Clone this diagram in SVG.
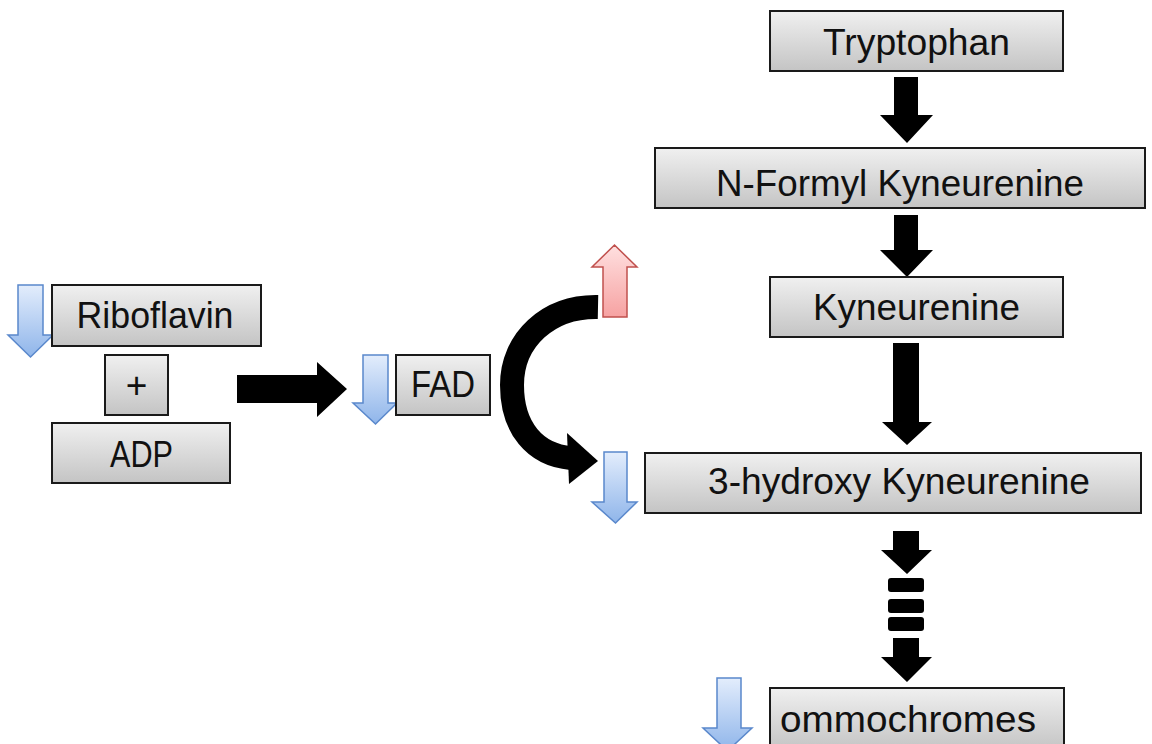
<svg xmlns="http://www.w3.org/2000/svg" width="1152" height="744" viewBox="0 0 1152 744">
  <defs>
    <linearGradient id="boxFill" x1="0" y1="0" x2="0" y2="1">
      <stop offset="0" stop-color="#f0f0f0"/>
      <stop offset="1" stop-color="#c4c4c4"/>
    </linearGradient>
    <linearGradient id="blueFill" x1="0" y1="0" x2="0" y2="1">
      <stop offset="0" stop-color="#e3edfc"/>
      <stop offset="1" stop-color="#8fb5ea"/>
    </linearGradient>
    <linearGradient id="redFill" x1="0" y1="0" x2="0" y2="1">
      <stop offset="0" stop-color="#ffe0e0"/>
      <stop offset="1" stop-color="#f6a2a2"/>
    </linearGradient>
  </defs>
  <style>
    .box { fill: url(#boxFill); stroke: #1a1a1a; stroke-width: 2; }
    .label { font-family: "Liberation Sans", Arial, sans-serif; font-size: 37px; fill: #111; text-anchor: middle; }
    .down { fill: url(#blueFill); stroke: #5a88cc; stroke-width: 1.5; stroke-linejoin: miter; }
    .up { fill: url(#redFill); stroke: #c0504d; stroke-width: 1.5; stroke-linejoin: miter; }
    .flow { fill: #000; stroke: none; }
    .curve { fill: none; stroke: #000; stroke-width: 24; }
  </style>

  <rect width="1152" height="744" fill="#fff"/>

  <!-- pathway connectors -->
  <g id="connectors">
    <!-- Riboflavin + ADP to FAD -->
    <polygon class="flow" points="237,375 317,375 317,362 347,389 317,417 317,403 237,403"/>
    <!-- FAD effect: curved arrow -->
    <path class="curve" d="M598,307 C548,306 512,340 512,385 C512,428 535,455 571,458"/>
    <polygon class="flow" points="567,433 598,461 569,484"/>
    <!-- Tryptophan to N-Formyl Kyneurenine -->
    <polygon class="flow" points="894,77 918,77 918,115 933,115 907,143 880,115 894,115"/>
    <!-- N-Formyl Kyneurenine to Kyneurenine -->
    <polygon class="flow" points="894,215 918,215 918,250 933,250 907,277 880,250 894,250"/>
    <!-- Kyneurenine to 3-hydroxy Kyneurenine -->
    <polygon class="flow" points="893,343 919,343 919,422 932,422 907,445 882,422 893,422"/>
    <!-- 3-hydroxy Kyneurenine to ommochromes (multi-step) -->
    <polygon class="flow" points="893,531 919,531 919,550 932,550 907,574 881,550 893,550"/>
    <rect class="flow" x="888" y="578" width="36" height="14" rx="3"/>
    <rect class="flow" x="888" y="599" width="36" height="14" rx="3"/>
    <rect class="flow" x="888" y="617" width="36" height="14" rx="3"/>
    <polygon class="flow" points="893,638 919,638 919,657 932,657 907,682 881,657 893,657"/>
  </g>

  <!-- level change indicators -->
  <g id="indicators">
    <polygon class="down" points="18,285 43,285 43,335 53,335 30.5,357 8,335 18,335"/>
    <polygon class="down" points="363,355 388,355 388,403 397,403 375.5,424 353,403 363,403"/>
    <polygon class="up" points="603,317 627,317 627,267 637,267 614.5,245 592,267 603,267"/>
    <polygon class="down" points="604,452 627,452 627,502 637,502 615.5,523 592,502 604,502"/>
    <polygon class="down" points="717,678 741,678 741,728 752,728 727.5,751 703,728 717,728"/>
  </g>

  <g id="riboflavin">
    <rect class="box" x="52" y="285" width="209" height="61"/>
    <text class="label" x="155" y="328" textLength="157" lengthAdjust="spacingAndGlyphs">Riboflavin</text>
  </g>
  <g id="plus">
    <rect class="box" x="105" y="355" width="63" height="60"/>
    <text class="label" x="136.5" y="398">+</text>
  </g>
  <g id="adp">
    <rect class="box" x="52" y="423" width="178" height="60"/>
    <text class="label" x="141.5" y="467" textLength="63" lengthAdjust="spacingAndGlyphs">ADP</text>
  </g>
  <g id="fad">
    <rect class="box" x="396" y="355" width="94" height="60"/>
    <text class="label" x="443" y="397" textLength="64" lengthAdjust="spacingAndGlyphs">FAD</text>
  </g>
  <g id="tryptophan">
    <rect class="box" x="770" y="11" width="293" height="60"/>
    <text class="label" x="916.5" y="55" textLength="187" lengthAdjust="spacingAndGlyphs">Tryptophan</text>
  </g>
  <g id="n-formyl-kyneurenine">
    <rect class="box" x="655" y="148" width="490" height="60"/>
    <text class="label" x="900" y="196" textLength="368" lengthAdjust="spacingAndGlyphs">N-Formyl Kyneurenine</text>
  </g>
  <g id="kyneurenine">
    <rect class="box" x="770" y="277" width="293" height="60"/>
    <text class="label" x="916.5" y="320" textLength="207" lengthAdjust="spacingAndGlyphs">Kyneurenine</text>
  </g>
  <g id="hydroxy-kyneurenine">
    <rect class="box" x="645" y="453" width="496" height="60"/>
    <text class="label" x="899" y="494" textLength="382" lengthAdjust="spacingAndGlyphs">3-hydroxy Kyneurenine</text>
  </g>
  <g id="ommochromes">
    <rect class="box" x="770" y="688" width="294" height="62"/>
    <text class="label" x="908" y="732" textLength="256" lengthAdjust="spacingAndGlyphs">ommochromes</text>
  </g>
</svg>
